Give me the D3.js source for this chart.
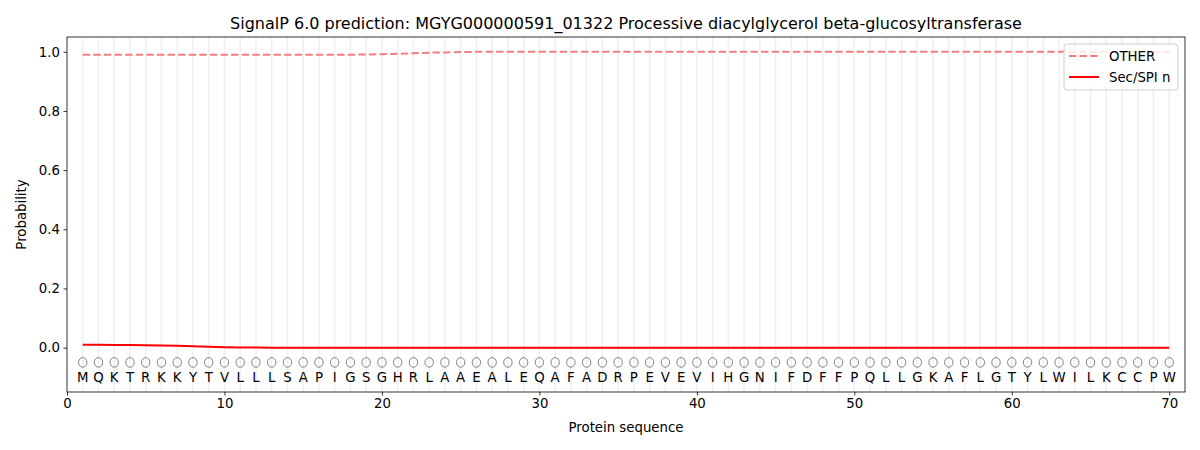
<!DOCTYPE html>
<html>
<head>
<meta charset="utf-8">
<script src="https://d3js.org/d3.v7.min.js"></script>
<style>
  body { margin: 0; background: #fff; }
  text { font-family: "DejaVu Sans", sans-serif; }
</style>
</head>
<body>
<div id="chart"></div>
<script>
// chart data
var title = "SignalP 6.0 prediction: MGYG000000591_01322 Processive diacylglycerol beta-glucosyltransferase";
var sequence = "MQKTRKKYTVLLLSAPIGSGHRLAAEALEQAFADRPEVEVIHGNIFDFFPQLLGKAFLGTYLWILKCCPW".split("");
var positions = sequence.map(function (d, i) { return i + 1; });
var otherProb = [0.990, 0.990, 0.990, 0.990, 0.990, 0.990, 0.990, 0.990, 0.990, 0.990,
                 0.990, 0.990, 0.990, 0.990, 0.990, 0.990, 0.990, 0.990, 0.991, 0.992,
                 0.993, 0.995, 0.997, 0.998, 0.999, 1.000, 1.000, 1.000, 1.000, 1.000,
                 1.000, 1.000, 1.000, 1.000, 1.000, 1.000, 1.000, 1.000, 1.000, 1.000,
                 1.000, 1.000, 1.000, 1.000, 1.000, 1.000, 1.000, 1.000, 1.000, 1.000,
                 1.000, 1.000, 1.000, 1.000, 1.000, 1.000, 1.000, 1.000, 1.000, 1.000,
                 1.000, 1.000, 1.000, 1.000, 1.000, 1.000, 1.000, 1.000, 1.000, 1.000];
var secProb = [0.010, 0.0095, 0.009, 0.0085, 0.008, 0.007, 0.006, 0.0045, 0.003, 0.0015,
               0.0005, 0.0002, 0, 0, 0, 0, 0, 0, 0, 0,
               0, 0, 0, 0, 0, 0, 0, 0, 0, 0,
               0, 0, 0, 0, 0, 0, 0, 0, 0, 0,
               0, 0, 0, 0, 0, 0, 0, 0, 0, 0,
               0, 0, 0, 0, 0, 0, 0, 0, 0, 0,
               0, 0, 0, 0, 0, 0, 0, 0, 0, 0];
var xTicks = [0, 10, 20, 30, 40, 50, 60, 70];
var yTicks = [0, 0.2, 0.4, 0.6, 0.8, 1.0];
var seriesNames = ["OTHER", "Sec/SPI n"];

var W = 1200, H = 450;
var margin = { left: 67, right: 15, top: 37, bottom: 58 };

var svg = d3.select("#chart").append("svg")
  .attr("width", W).attr("height", H);

var x = d3.scaleLinear().domain([0, 71]).range([margin.left, W - margin.right]);
var y = d3.scaleLinear().domain([-0.15, 1.05]).range([H - margin.bottom, margin.top]);

// vertical grid at every residue
svg.append("g").selectAll("line")
  .data(positions).enter().append("line")
    .attr("x1", function (d) { return x(d); })
    .attr("x2", function (d) { return x(d); })
    .attr("y1", y(1.05)).attr("y2", y(-0.15))
    .attr("stroke", "#b0b0b0").attr("stroke-opacity", 0.2)
    .attr("stroke-width", 1.5);

// residue markers and letters
svg.append("g").selectAll("ellipse")
  .data(positions).enter().append("ellipse")
    .attr("cx", function (d) { return x(d); })
    .attr("cy", y(-0.05))
    .attr("rx", 4.2).attr("ry", 4.8)
    .attr("fill", "none").attr("stroke", "#808080").attr("stroke-width", 1);

svg.append("g").selectAll("text")
  .data(sequence).enter().append("text")
    .attr("x", function (d, i) { return x(i + 1); })
    .attr("y", y(-0.10))
    .attr("dy", "0.36em")
    .attr("text-anchor", "middle")
    .attr("font-size", "13.3px")
    .text(function (d) { return d; });

var line = d3.line()
  .x(function (d, i) { return x(positions[i]); })
  .y(function (d) { return y(d); });

svg.append("path").datum(otherProb)
  .attr("d", line).attr("fill", "none")
  .attr("stroke", "#f08080").attr("stroke-width", 2)
  .attr("stroke-dasharray", "7.4,3.2");

svg.append("path").datum(secProb)
  .attr("d", line).attr("fill", "none")
  .attr("stroke", "#ff0000").attr("stroke-width", 2);

// axes
var xAxis = d3.axisBottom(x).tickValues(xTicks).tickSize(3.5).tickPadding(3.5)
  .tickFormat(d3.format("d"));
var yAxis = d3.axisLeft(y).tickValues(yTicks).tickSize(3.5).tickPadding(3.5)
  .tickFormat(d3.format(".1f"));

var gx = svg.append("g").attr("transform", "translate(0," + (H - margin.bottom) + ")").call(xAxis);
var gy = svg.append("g").attr("transform", "translate(" + margin.left + ",0)").call(yAxis);
[gx, gy].forEach(function (g) {
  g.select(".domain").remove();
  g.selectAll("text").attr("font-size", "13.3px").attr("fill", "#000")
    .style("font-family", "DejaVu Sans, sans-serif");
  g.selectAll("line").attr("stroke", "#000").attr("stroke-width", 0.8);
});

// frame
svg.append("rect")
  .attr("x", margin.left).attr("y", margin.top)
  .attr("width", W - margin.left - margin.right)
  .attr("height", H - margin.top - margin.bottom)
  .attr("fill", "none").attr("stroke", "#000").attr("stroke-width", 0.8);

// labels
svg.append("text")
  .attr("x", (margin.left + W - margin.right) / 2).attr("y", 29)
  .attr("text-anchor", "middle").attr("font-size", "16px")
  .text(title);

svg.append("text")
  .attr("x", (margin.left + W - margin.right) / 2).attr("y", 432)
  .attr("text-anchor", "middle").attr("font-size", "13.3px")
  .text("Protein sequence");

svg.append("text")
  .attr("transform", "translate(26," + ((margin.top + H - margin.bottom) / 2) + ") rotate(-90)")
  .attr("text-anchor", "middle").attr("font-size", "13.3px")
  .text("Probability");

// legend
var lg = svg.append("g").attr("transform", "translate(1064,44)");
lg.append("rect")
  .attr("width", 114).attr("height", 46).attr("rx", 3)
  .attr("fill", "#fff").attr("fill-opacity", 0.8)
  .attr("stroke", "#d0d0d0").attr("stroke-width", 1);
var styles = [
  { color: "#f08080", dash: "7.4,3.2" },
  { color: "#ff0000", dash: null }
];
seriesNames.forEach(function (name, i) {
  var yy = 12 + i * 21;
  lg.append("line")
    .attr("x1", 5).attr("x2", 35).attr("y1", yy).attr("y2", yy)
    .attr("stroke", styles[i].color).attr("stroke-width", 2)
    .attr("stroke-dasharray", styles[i].dash);
  lg.append("text")
    .attr("x", 45).attr("y", yy).attr("dy", "0.36em")
    .attr("font-size", "13.3px")
    .text(name);
});
</script>
</body>
</html>
